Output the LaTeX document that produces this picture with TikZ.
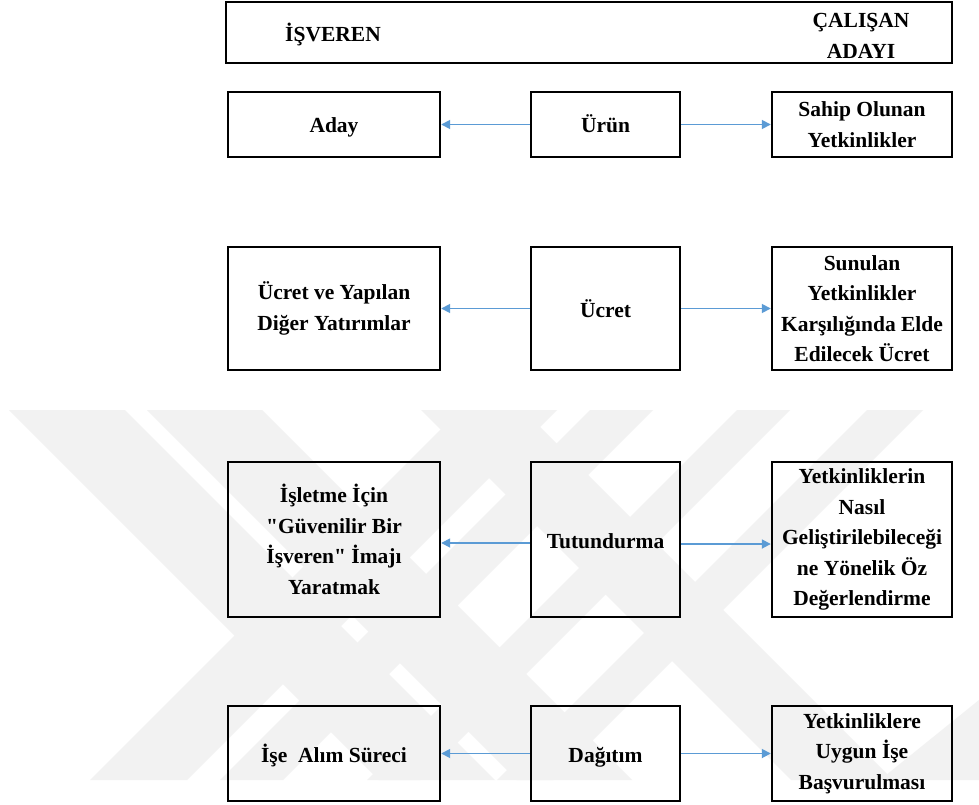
\documentclass[tikz,border=0pt]{standalone}
\usepackage{fontspec}
\setmainfont{Liberation Serif}[Ligatures=TeXOff]
\usetikzlibrary{arrows.meta}
\definecolor{linkblue}{HTML}{5B9BD5}
\definecolor{wmark}{HTML}{F2F2F2}
\begin{document}
\begin{tikzpicture}[x=1pt,y=-1pt,
  box/.style={draw=black,line width=2.4pt,rectangle,inner sep=0pt,align=center,
    font=\bfseries\fontsize{21.5}{30.5}\selectfont},
  oneline/.style={text height=17pt,text depth=0pt},
  lbl/.style={inner sep=0pt,align=center,font=\bfseries\fontsize{21.5}{30.5}\selectfont},
  link/.style={draw=linkblue,line width=1.7pt,-{Triangle[length=9pt,width=9pt]}}]
\useasboundingbox (0,0) rectangle (979,805);
\fill[white] (0,0) rectangle (979,805);

% faint background emblem: diagonal bands
\begin{scope}
\clip (0,410) rectangle (979,780);
\fill[wmark] (9,410) -- (125,410) -- (495,780) -- (379,780) -- cycle;
\fill[wmark] (147,410) -- (262,410) -- (632,780) -- (517,780) -- cycle;
\fill[wmark] (421,410) -- (523,410) -- (893,780) -- (791,780) -- cycle;
\fill[wmark] (90,780) -- (187,780) -- (557,410) -- (460,410) -- cycle;
\fill[wmark] (220,780) -- (283,780) -- (653,410) -- (590,410) -- cycle;
\fill[wmark] (367,780) -- (420,780) -- (790,410) -- (737,410) -- cycle;
\fill[wmark] (497,780) -- (553,780) -- (923,410) -- (867,410) -- cycle;
\fill[wmark] (880,780) -- (979,780) -- (979,700) -- cycle;
\end{scope}

% header bar
\node[box,minimum width=726pt,minimum height=61pt] (head) at (589,32.5) {};
\node[lbl,oneline] (emp) at (333,33) {İŞVEREN};
\node[lbl] (cand) at (861,36) {ÇALIŞAN\\ADAYI};

% row 1
\node[box,oneline,minimum width=212pt,minimum height=65pt] (l1) at (334,124.5) {Aday};
\node[box,oneline,minimum width=149pt,minimum height=65pt] (m1) at (605.5,124.5) {Ürün};
\node[box,minimum width=180pt,minimum height=65pt] (r1) at (862,124.5) {Sahip Olunan\\Yetkinlikler};

% row 2
\node[box,minimum width=212pt,minimum height=123pt] (l2) at (334,308.5) {Ücret ve Yapılan\\Diğer Yatırımlar};
\node[box,oneline,minimum width=149pt,minimum height=123pt] (m2) at (605.5,308.5) {Ücret};
\node[box,minimum width=180pt,minimum height=123pt] (r2) at (862,308.5) {Sunulan\\Yetkinlikler\\Karşılığında Elde\\Edilecek Ücret};

% row 3
\node[box,minimum width=212pt,minimum height=155pt] (l3) at (334,539.5) {İşletme İçin\\"Güvenilir Bir\\İşveren" İmajı\\Yaratmak};
\node[box,oneline,minimum width=149pt,minimum height=155pt] (m3) at (605.5,539.5) {Tutundurma};
\node[box,minimum width=180pt,minimum height=155pt] (r3) at (862,539.5) {Yetkinliklerin\\Nasıl\\Geliştirilebileceği\\ne Yönelik Öz\\Değerlendirme};

% row 4
\node[box,oneline,minimum width=212pt,minimum height=95pt] (l4) at (334,753.5) {İşe~ Alım Süreci};
\node[box,oneline,minimum width=149pt,minimum height=95pt] (m4) at (605.5,753.5) {Dağıtım};
\node[box,minimum width=180pt,minimum height=95pt] (r4) at (862,753.5) {Yetkinliklere\\Uygun İşe\\Başvurulması};

% connectors
\draw[link] (m1.west) -- (l1.east);
\draw[link] (m1.east) -- (r1.west);
\draw[link] (m2.west) -- (l2.east);
\draw[link] (m2.east) -- (r2.west);
\draw[link] ([yshift=-3.5pt]m3.west) -- ([yshift=-3.5pt]l3.east);
\draw[link] ([yshift=-4.5pt]m3.east) -- ([yshift=-4.5pt]r3.west);
\draw[link] (m4.west) -- (l4.east);
\draw[link] (m4.east) -- (r4.west);
\end{tikzpicture}
\end{document}
